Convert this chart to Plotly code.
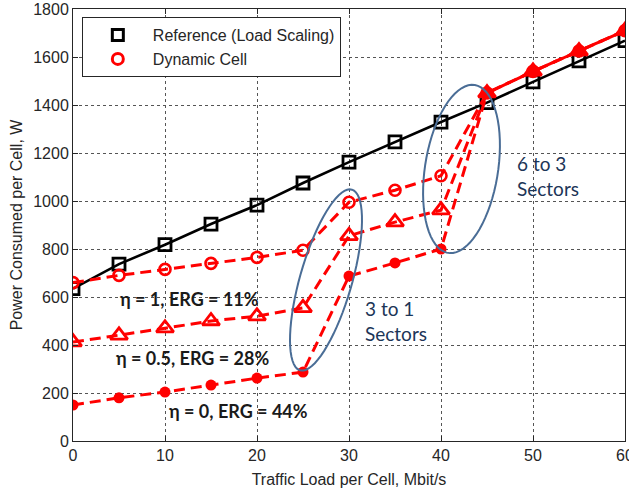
import numpy as np
import plotly.graph_objects as go

# ---------------- data ----------------
load = [0, 5, 10, 15, 20, 25, 30, 35, 40, 45, 50, 55, 60]
reference = [635, 737, 818, 904, 983, 1075, 1162, 1246, 1329, 1410, 1496, 1584, 1668]
dyn_eta1 = [660, 690, 715, 740, 765, 795, 995, 1045, 1105, 1450, 1540, 1625, 1710]
dyn_eta05 = [412, 440, 470, 500, 520, 555, 855, 912, 962, 1450, 1540, 1625, 1710]
dyn_eta0 = [150, 180, 204, 233, 262, 287, 687, 742, 800, 1450, 1540, 1625, 1710]

x_ticks = [0, 10, 20, 30, 40, 50, 60]
y_ticks = [0, 200, 400, 600, 800, 1000, 1200, 1400, 1600, 1800]

# ---------------- layout geometry ----------------
W, H = 629, 490
ML, MR, MT, MB = 73, 4, 9, 49
XR = [0, 60]
YR = [0, 1800]
PW, PH = W - ML - MR, H - MT - MB

def px_to_data(px, py):
    x = XR[0] + (px - ML) / PW * (XR[1] - XR[0])
    y = YR[0] + (H - MB - py) / PH * (YR[1] - YR[0])
    return x, y

def ellipse_path(cx, cy, a, b, tilt_deg, n=72):
    t = np.linspace(0, 2 * np.pi, n)
    phi = np.deg2rad(tilt_deg)
    ux, uy = np.sin(phi), -np.cos(phi)
    vx, vy = np.cos(phi), np.sin(phi)
    pts = []
    for tt in t:
        px = cx + a * np.cos(tt) * ux + b * np.sin(tt) * vx
        py = cy + a * np.cos(tt) * uy + b * np.sin(tt) * vy
        pts.append(px_to_data(px, py))
    return "M " + " L ".join(f"{x:.4f},{y:.4f}" for x, y in pts) + " Z"

RED = "#ff0000"
DASH = "11px,6px"
SANS = "Liberation Sans, Arial, sans-serif"

fig = go.Figure()

fig.add_trace(go.Scatter(
    x=load, y=reference, mode="lines+markers", showlegend=False,
    line=dict(color="black", width=2.6),
    marker=dict(symbol="square-open", size=12, color="black", line=dict(width=2.8)),
))
fig.add_trace(go.Scatter(
    x=load, y=dyn_eta0, mode="lines+markers", showlegend=False,
    line=dict(color=RED, width=3, dash=DASH),
    marker=dict(symbol="circle", size=11, color=RED),
))
fig.add_trace(go.Scatter(
    x=load, y=dyn_eta1, mode="lines+markers", showlegend=False,
    line=dict(color=RED, width=3, dash=DASH),
    marker=dict(symbol="circle-open", size=11, color=RED, line=dict(width=2.6)),
))
fig.add_trace(go.Scatter(
    x=load, y=dyn_eta05, mode="lines+markers", showlegend=False,
    line=dict(color=RED, width=3, dash=DASH),
    marker=dict(symbol="triangle-up-open", size=15, color=RED, line=dict(width=2.8)),
))

# legend-only entries (markers only, as in the reference)
fig.add_trace(go.Scatter(
    x=[None], y=[None], mode="markers", name="Reference (Load Scaling)",
    marker=dict(symbol="square-open", size=11, color="black", line=dict(width=3)),
))
fig.add_trace(go.Scatter(
    x=[None], y=[None], mode="markers", name="Dynamic Cell",
    marker=dict(symbol="circle-open", size=11, color=RED, line=dict(width=3)),
))

ELL = "#4a6d96"
fig.add_shape(type="path", path=ellipse_path(326, 280, 94, 26, 16),
              line=dict(color=ELL, width=2), xref="x", yref="y")
fig.add_shape(type="path", path=ellipse_path(461.5, 169, 85, 36.5, 9),
              line=dict(color=ELL, width=2), xref="x", yref="y")

labels = [
    ("<b>η = 1, ERG = 11%</b>", 12.7, 592),
    ("<b>η = 0.5, ERG = 28%</b>", 13.0, 346),
    ("<b>η = 0, ERG = 44%</b>", 18.0, 125),
]
for txt, lx, ly in labels:
    fig.add_annotation(x=lx, y=ly, text=txt, showarrow=False, xanchor="center", yanchor="middle",
                       font=dict(family="Lato, sans-serif", size=18, color="#1a1a1a"))

sectors = [
    ("3 to 1<br>Sectors", 31.5, 500),
    ("6 to 3<br>Sectors", 48.0, 1105),
]
for txt, lx, ly in sectors:
    fig.add_annotation(x=lx, y=ly, text=txt, showarrow=False, xanchor="left", yanchor="middle",
                       align="left", font=dict(family="Lato, sans-serif", size=19, color="#1c3557"))

axis_common = dict(
    showline=True, mirror="ticks", linecolor="#262626", linewidth=1,
    ticks="inside", ticklen=5, tickcolor="#262626",
    showgrid=True, gridcolor="#555555", griddash="dot", gridwidth=1,
    zeroline=False, tickfont=dict(family=SANS, size=16, color="#262626"),
    automargin=False, ticklabeloverflow="allow",
)

fig.update_layout(
    width=W, height=H,
    margin=dict(l=ML, r=MR, t=MT, b=MB),
    paper_bgcolor="white", plot_bgcolor="white",
    font=dict(family=SANS, size=16, color="#262626"),
    xaxis=dict(range=XR, tickvals=x_ticks,
               title=dict(text="Traffic Load per Cell, Mbit/s", standoff=10,
                          font=dict(family=SANS, size=16, color="#262626")),
               **axis_common),
    yaxis=dict(range=YR, tickvals=y_ticks,
               title=dict(text="Power Consumed per Cell, W", standoff=6,
                          font=dict(family=SANS, size=16, color="#262626")),
               **axis_common),
    legend=dict(x=0.016, y=0.981, xanchor="left", yanchor="top",
                bgcolor="white", bordercolor="#262626", borderwidth=1,
                font=dict(family=SANS, size=16, color="#262626"),
                itemwidth=60, tracegroupgap=0),
)

fig.write_html("out.html", config={"displayModeBar": False},
               post_script="document.body.style.margin='0';")
